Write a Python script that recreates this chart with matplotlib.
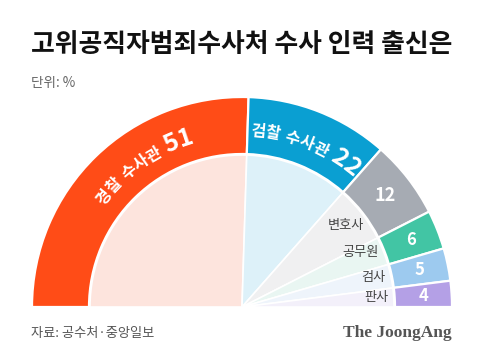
import numpy as np
import matplotlib
matplotlib.use("Agg")
import matplotlib.pyplot as plt

plt.rcParams['font.family'] = ['Noto Sans CJK KR', 'DejaVu Sans']

# ---- data ----
categories = ['경찰 수사관', '검찰 수사관', '변호사', '공무원', '검사', '판사']
values = [51, 22, 12, 6, 5, 4]
ring_colors = ['#ff4c17', '#0a9fd2', '#a6abb3', '#42c5a4', '#9dcaef', '#b4a0e6']
fill_colors = ['#fde4dd', '#ddf1f9', '#f0f0f1', '#e9f6f2', '#eef4fb', '#f3f0fa']
title = '고위공직자범죄수사처 수사 인력 출신은'
unit = '단위: %'
source = '자료: 공수처·중앙일보'
brand = 'The JoongAng'

W, H = 480, 364
fig = plt.figure(figsize=(W / 100, H / 100), dpi=100)
ax = fig.add_axes([0, 0, 1, 1])

cx, cy = 242, H - 307
R_out, R_in = 210, 153

total = sum(values)
pie_vals = values + [total]

ax.pie(pie_vals, colors=ring_colors + ['none'], startangle=180, counterclock=False,
       radius=R_out, center=(cx, cy),
       wedgeprops=dict(width=R_out - R_in, edgecolor='white', linewidth=1.6))
ax.pie(pie_vals, colors=fill_colors + ['none'], startangle=180, counterclock=False,
       radius=R_in - 1, center=(cx, cy),
       wedgeprops=dict(edgecolor='white', linewidth=1.2))
for w in ax.patches:
    if w.get_facecolor()[3] == 0:
        w.set_edgecolor('none')

ax.set_xlim(0, W)
ax.set_ylim(0, H)
ax.set_aspect('equal')
ax.axis('off')

cum = np.cumsum([0] + values)
start_ang = 180 - cum[:-1] / total * 180
end_ang = 180 - cum[1:] / total * 180
mid_ang = (start_ang + end_ang) / 2

renderer = fig.canvas.get_renderer()


def curved_label(parts, center_deg, r_base):
    chars = []
    for txt, fs in parts:
        for ch in txt:
            if ch == ' ':
                wpx = fs * 100 / 72 * 0.3
            else:
                t = ax.text(0, 0, ch, fontsize=fs, fontweight='black')
                bb = t.get_window_extent(renderer)
                t.remove()
                wpx = bb.width
            chars.append((ch, fs, wpx))
    L = sum(c[2] for c in chars)
    s = 0
    for ch, fs, wpx in chars:
        sc = s + wpx / 2
        ang = np.deg2rad(center_deg) + (L / 2 - sc) / r_base
        s += wpx
        if ch == ' ':
            continue
        x = cx + r_base * np.cos(ang)
        y = cy + r_base * np.sin(ang)
        ax.text(x, y, ch, fontsize=fs, fontweight='black', color='white',
                rotation=np.rad2deg(ang) - 90, rotation_mode='anchor',
                ha='center', va='baseline')


curved_label([('경찰 수사관 ', 11.5), (str(values[0]), 18)], 125, 171)
curved_label([('검찰 수사관 ', 11.5), (str(values[1]), 18)], mid_ang[1], 171)

r_mid = (R_out + R_in) / 2
for i in range(2, len(values)):
    a = np.deg2rad(mid_ang[i])
    ax.text(cx + r_mid * np.cos(a), cy + r_mid * np.sin(a), str(values[i]),
            fontsize=13 if i == 2 else 12, fontweight='bold', color='white',
            ha='center', va='center')

r_lab = 147
lab_offsets = [0, 0, -4, 0, 0, 0]
for i in range(2, len(values)):
    a = np.deg2rad(mid_ang[i] + lab_offsets[i])
    ax.text(cx + r_lab * np.cos(a), cy + r_lab * np.sin(a), categories[i],
            fontsize=9.5, color='#444444', ha='right', va='center')

ax.text(31, H - 45, title, fontsize=18.6, fontweight='black', color='#111111',
        ha='left', va='center')
ax.text(31, H - 83, unit, fontsize=9.8, color='#666666', ha='left', va='center')
ax.text(31, H - 333, source, fontsize=9.5, color='#555555', ha='left', va='center')
ax.text(452, H - 333, brand, fontsize=12.5, fontweight='bold', color='#555555',
        family='Liberation Serif', ha='right', va='center')

fig.savefig('out.png', dpi=100, facecolor='white')
